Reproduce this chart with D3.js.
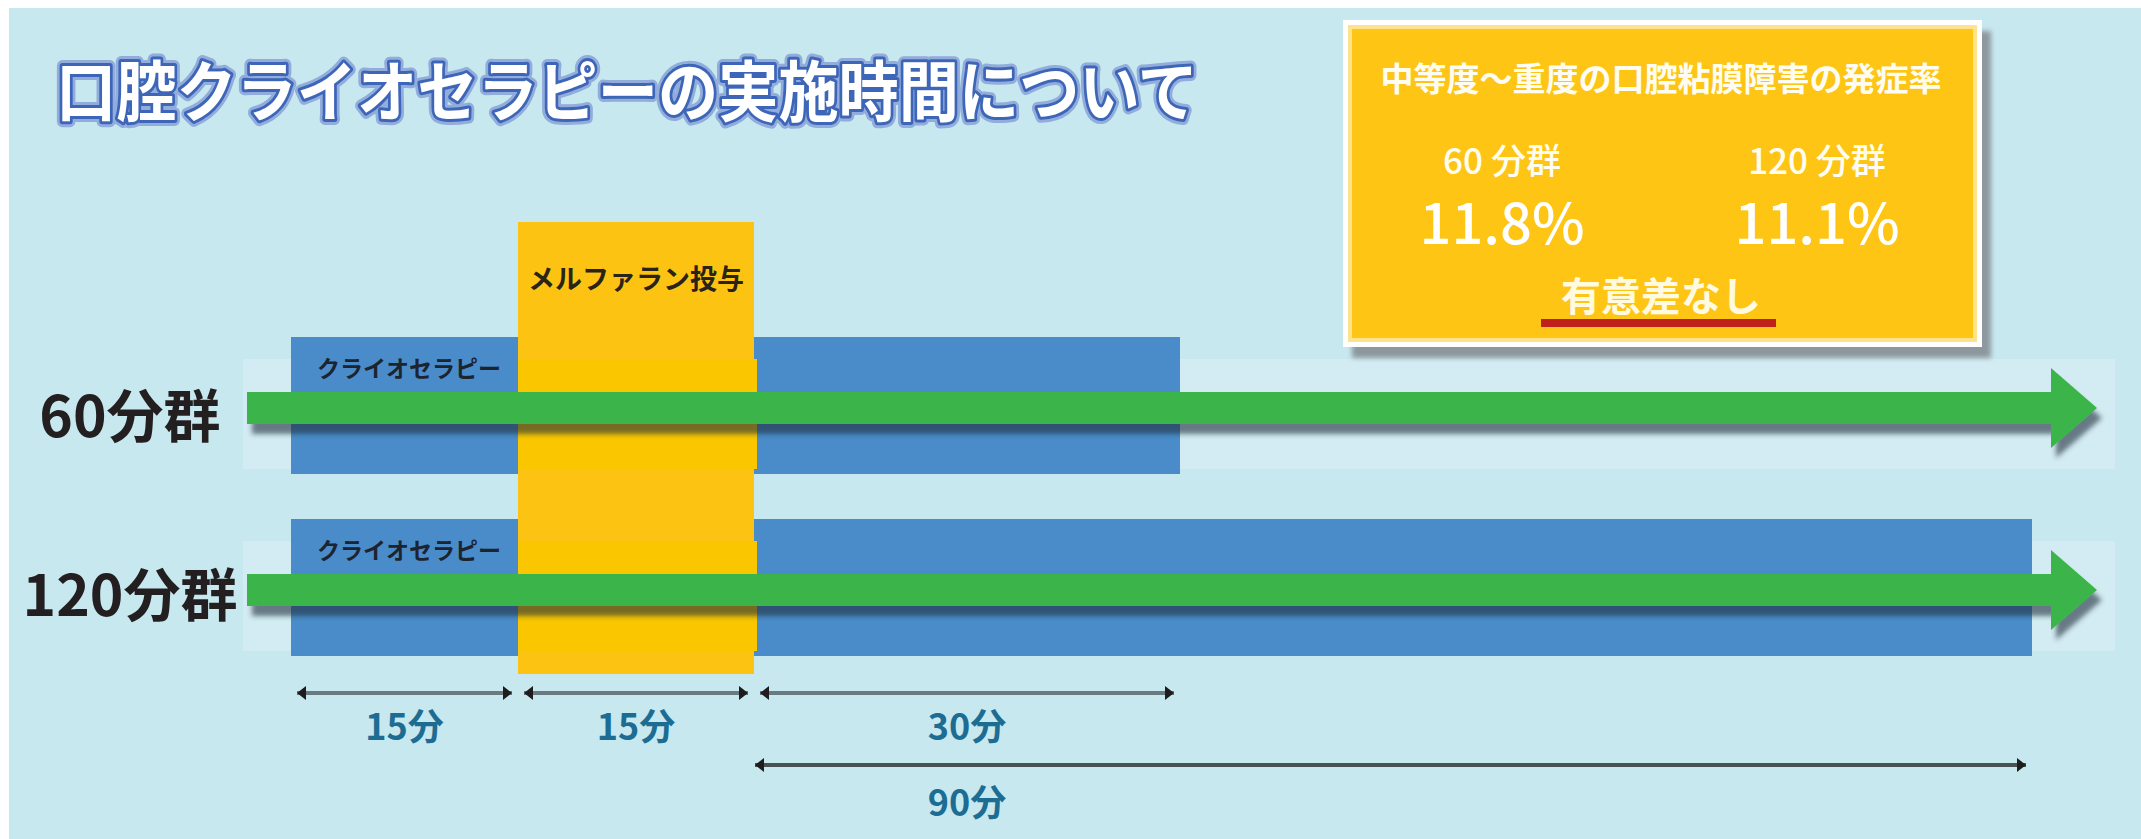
<!DOCTYPE html>
<html lang="ja">
<head>
<meta charset="utf-8">
<script src="https://cdn.jsdelivr.net/npm/d3@7/dist/d3.min.js"></script>
<style>
  html, body { margin: 0; padding: 0; background: #ffffff; }
  svg { display: block; }
  text { font-family: 'Noto Sans CJK JP', 'Noto Sans', sans-serif; }
</style>
</head>
<body>
<svg id="chart" width="2141" height="839"></svg>
<script>
// ---------------- data ----------------
const titleText = "口腔クライオセラピーの実施時間について";
const groups = ["60分群", "120分群"];
const cryoLabel = "クライオセラピー";
const melphalanLabel = "メルファラン投与";
const cryoBefore = [15, 15];        // minutes of cryotherapy before melphalan
const melphalanMinutes = 15;         // melphalan infusion
const totalMinutes = [60, 120];      // total cryotherapy time per group
const timeBreaks = [0, 15, 30, 120]; // minute marks on the time axis
const dimFrom = [0, 15, 30, 30];
const dimTo = [15, 30, 60, 120];
const dimRow = [0, 0, 0, 1];
const dimLabelAt = [7.5, 22.5, 45, 45];
const dimLabels = ["15分", "15分", "30分", "90分"];
const boxTitle = "中等度～重度の口腔粘膜障害の発症率";
const boxGroups = ["60 分群", "120 分群"];
const incidence = [11.8, 11.1];
const significance = "有意差なし";

// ---------------- drawing ----------------
const svg = d3.select("#chart");
const W = 2141, H = 839;
const C = {
  bg: "#c7e8ef", band: "#d3ebf2", blue: "#4a8cca", yellow: "#fdc313",
  yellow2: "#f9c600", green: "#3ab54a", boxYellow: "#fec515"
};

const defs = svg.append("defs");
const sh = defs.append("filter").attr("id", "arrowShadow")
  .attr("x", "-5%").attr("y", "-50%").attr("width", "115%").attr("height", "250%");
sh.append("feDropShadow").attr("dx", 5).attr("dy", 10).attr("stdDeviation", 2.5)
  .attr("flood-color", "#1f2a3a").attr("flood-opacity", 0.6);
const bs = defs.append("filter").attr("id", "boxBlur");
bs.append("feGaussianBlur").attr("stdDeviation", 2.5);

svg.append("rect").attr("x", 9).attr("y", 8).attr("width", W - 9).attr("height", H - 8).attr("fill", C.bg);

const x = d3.scaleLinear().domain(timeBreaks).range([291, 518, 754, 2032]);
const y = d3.scalePoint().domain(groups).range([408, 590]);

// title
const title = svg.append("g");
title.append("text").attr("x", 56).attr("y", 87).attr("dominant-baseline", "central")
  .attr("textLength", 1142).attr("lengthAdjust", "spacingAndGlyphs")
  .attr("font-size", 66).attr("font-weight", 700)
  .attr("fill", "#ffffff").attr("stroke", "#92acdc").attr("stroke-width", 12)
  .attr("stroke-linejoin", "round").text(titleText);
title.append("text").attr("x", 56).attr("y", 87).attr("dominant-baseline", "central")
  .attr("textLength", 1142).attr("lengthAdjust", "spacingAndGlyphs")
  .attr("font-size", 66).attr("font-weight", 700)
  .attr("fill", "#ffffff").attr("stroke", "#3d66b8").attr("stroke-width", 6)
  .attr("paint-order", "stroke").attr("stroke-linejoin", "round").text(titleText);

// row bands
svg.append("g").selectAll("rect").data(groups).join("rect")
  .attr("x", x(0) - 48).attr("width", x(120) + 83 - (x(0) - 48))
  .attr("y", d => y(d) - 49).attr("height", 110)
  .attr("fill", C.band);

// blue cryotherapy bars
svg.append("g").selectAll("rect").data(groups).join("rect")
  .attr("x", x(0)).attr("width", (d, i) => x(totalMinutes[i]) - x(0))
  .attr("y", d => y(d) - 71).attr("height", 137)
  .attr("fill", C.blue);

// melphalan column
const mStart = cryoBefore[0], mEnd = cryoBefore[0] + melphalanMinutes;
svg.append("rect").attr("x", x(mStart)).attr("width", x(mEnd) - x(mStart))
  .attr("y", y(groups[0]) - 186).attr("height", y(groups[1]) + 84 - (y(groups[0]) - 186))
  .attr("fill", C.yellow);
svg.append("g").selectAll("rect").data(groups).join("rect")
  .attr("x", x(mStart)).attr("width", x(mEnd) - x(mStart) + 3)
  .attr("y", d => y(d) - 49).attr("height", 110)
  .attr("fill", C.yellow2);
svg.append("text").attr("x", (x(mStart) + x(mEnd)) / 2).attr("y", 277)
  .attr("text-anchor", "middle").attr("dominant-baseline", "central")
  .attr("font-size", 27).attr("font-weight", 700).attr("fill", "#2a2418")
  .text(melphalanLabel);

// cryotherapy labels
svg.append("g").selectAll("text").data(groups).join("text")
  .attr("x", x(0) + 26).attr("y", d => y(d) - 41)
  .attr("dominant-baseline", "central")
  .attr("font-size", 23).attr("font-weight", 700).attr("fill", "#1c2430")
  .text(cryoLabel);

// green arrows
const arrowPath = d => {
  const c = y(d), x0 = x(0) - 44, x1 = x(120) + 65, hx = x1 - 46;
  return `M${x0},${c - 16} L${hx},${c - 16} L${hx},${c - 40} L${x1},${c} L${hx},${c + 40} L${hx},${c + 16} L${x0},${c + 16} Z`;
};
svg.append("g").selectAll("path").data(groups).join("path")
  .attr("d", arrowPath).attr("fill", C.green).attr("filter", "url(#arrowShadow)");

// group labels
svg.append("g").selectAll("text").data(groups).join("text")
  .attr("x", 130).attr("y", (d, i) => y(d) + (i === 0 ? 4 : 1))
  .attr("text-anchor", "middle").attr("dominant-baseline", "central")
  .attr("font-size", 57).attr("font-weight", 700).attr("fill", "#231f20")
  .text(d => d);

// dimension lines
const dimY = [693, 765];
const dimLabelY = [724, 800];
const dims = dimLabels.map((l, i) => ({ from: dimFrom[i], to: dimTo[i], row: dimRow[i], at: dimLabelAt[i], label: l }));
const dimG = svg.append("g");
dims.forEach(d => {
  const yy = dimY[d.row];
  const a = x(d.from) + (d.row === 0 ? 6 : 1);
  const b = x(d.to) - 6;
  dimG.append("line").attr("x1", a).attr("x2", b).attr("y1", yy).attr("y2", yy)
    .attr("stroke", d.row === 0 ? "#6b7a80" : "#485154").attr("stroke-width", 4);
  dimG.append("path").attr("d", `M${a},${yy} L${a + 9},${yy - 7} L${a + 9},${yy + 7} Z`).attr("fill", "#1e1c1d");
  dimG.append("path").attr("d", `M${b},${yy} L${b - 9},${yy - 7} L${b - 9},${yy + 7} Z`).attr("fill", "#1e1c1d");
  dimG.append("text").attr("x", x(d.at)).attr("y", dimLabelY[d.row])
    .attr("text-anchor", "middle").attr("dominant-baseline", "central")
    .attr("font-size", 36).attr("font-weight", 700).attr("fill", "#1d6d93")
    .text(d.label);
});

// info box
const box = svg.append("g");
box.append("rect").attr("x", 1352).attr("y", 31).attr("width", 639).attr("height", 327)
  .attr("fill", "#8d989e").attr("filter", "url(#boxBlur)");
box.append("rect").attr("x", 1343).attr("y", 20).attr("width", 639).attr("height", 327).attr("fill", "#ffffff");
box.append("rect").attr("x", 1350).attr("y", 27).attr("width", 625).attr("height", 313)
  .attr("fill", C.boxYellow).attr("stroke", "#fde38c").attr("stroke-width", 4);
box.append("text").attr("x", 1661).attr("y", 77).attr("text-anchor", "middle").attr("dominant-baseline", "central")
  .attr("font-size", 33).attr("font-weight", 700).attr("fill", "#fffdf2").text(boxTitle);
const colX = d3.scalePoint().domain(boxGroups).range([1502, 1817]);
box.append("g").selectAll("text").data(boxGroups).join("text")
  .attr("x", d => colX(d)).attr("y", 158).attr("text-anchor", "middle").attr("dominant-baseline", "central")
  .attr("font-size", 35).attr("font-weight", 500).attr("fill", "#fffdf2").text(d => d);
box.append("g").selectAll("text").data(incidence).join("text")
  .attr("x", (d, i) => colX(boxGroups[i])).attr("y", 219).attr("text-anchor", "middle").attr("dominant-baseline", "central")
  .attr("font-size", 56).attr("font-weight", 500).attr("fill", "#ffffff").text(d => d3.format(".1f")(d) + "%");
box.append("text").attr("x", 1661).attr("y", 294).attr("text-anchor", "middle").attr("dominant-baseline", "central")
  .attr("font-size", 40).attr("font-weight", 700).attr("fill", "#fffae0").text(significance);
box.append("rect").attr("x", 1541).attr("y", 319).attr("width", 235).attr("height", 8).attr("fill", "#c0201a");
</script>
</body>
</html>
